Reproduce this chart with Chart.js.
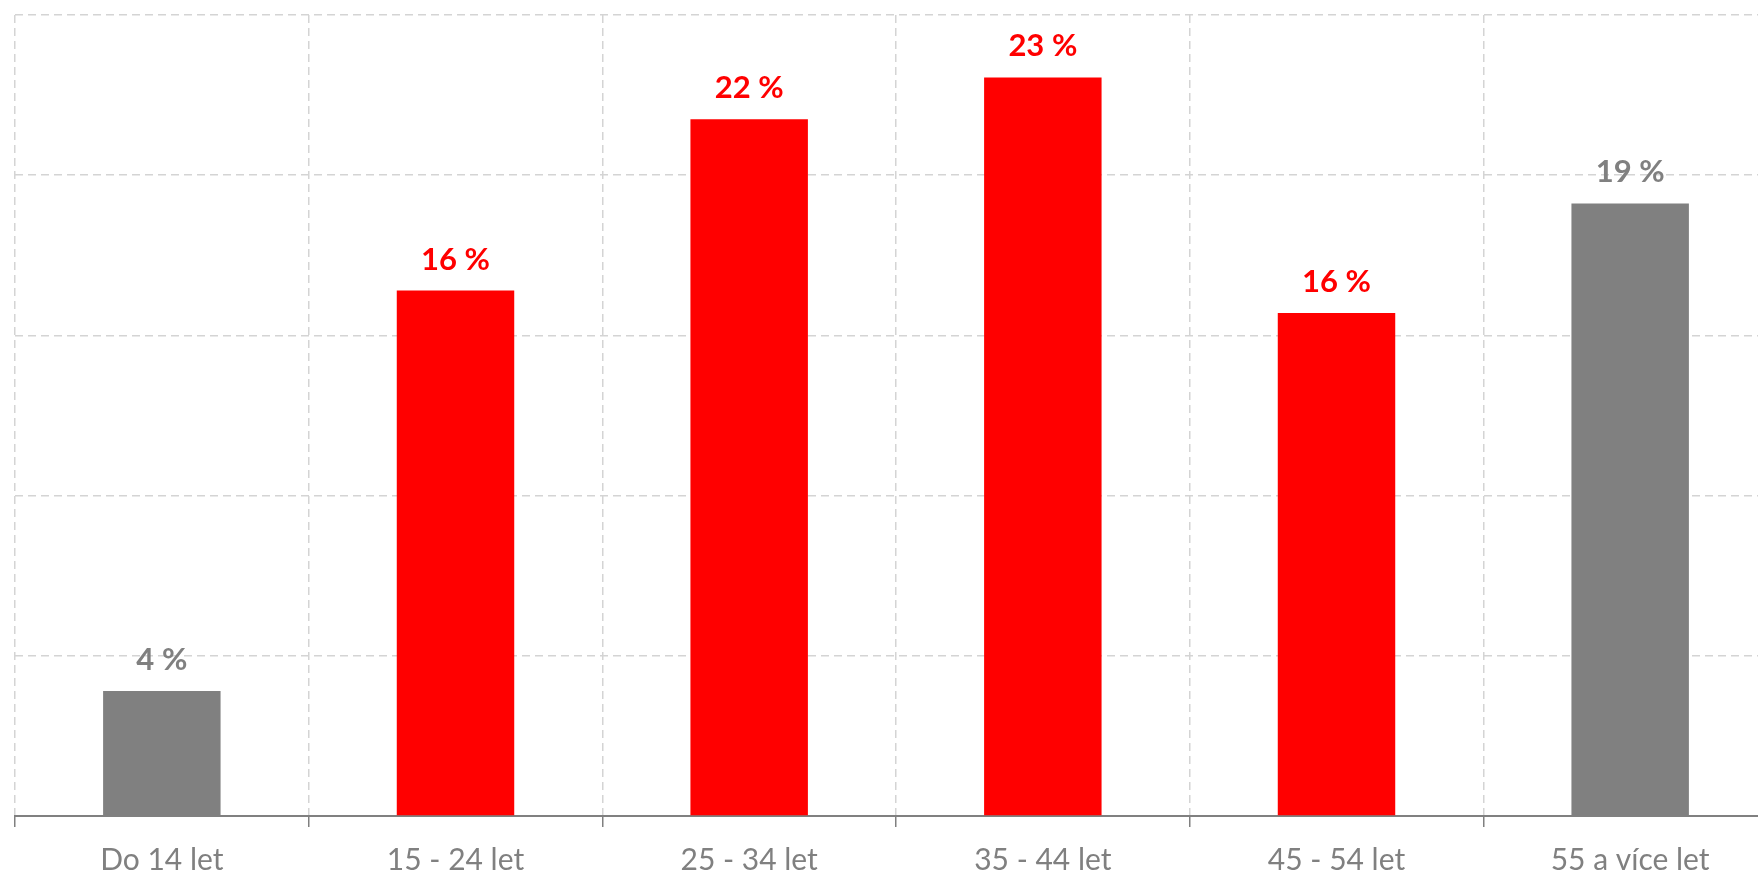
<!DOCTYPE html>
<html>
<head>
<meta charset="utf-8">
<script src="https://cdn.jsdelivr.net/npm/chart.js@4"></script>
<style>
  html, body { margin: 0; padding: 0; background: #fff; overflow: hidden; }
  #wrap { position: relative; width: 1777px; height: 876px; }
</style>
</head>
<body>
<div id="wrap"><canvas id="chart"></canvas></div>
<script>
const categories = ["Do 14 let", "15 - 24 let", "25 - 34 let", "35 - 44 let", "45 - 54 let", "55 a více let"];
const shares = [3.9, 16.4, 21.75, 23.05, 15.7, 19.12];
const shareLabels = ["4 %", "16 %", "22 %", "23 %", "16 %", "19 %"];

const RED = "#ff0000";
const GREY = "#808080";
const barColors = [GREY, RED, RED, RED, RED, GREY];

// value labels above the bars
const valueLabels = {
  id: "valueLabels",
  afterDatasetsDraw(chart) {
    const ctx = chart.ctx;
    const meta = chart.getDatasetMeta(0);
    ctx.save();
    ctx.font = "bold 31px Lato";
    ctx.textAlign = "center";
    ctx.textBaseline = "alphabetic";
    meta.data.forEach((bar, i) => {
      ctx.fillStyle = barColors[i];
      ctx.fillText(shareLabels[i], bar.x, bar.y - 21);
    });
    ctx.restore();
  }
};

new Chart(document.getElementById("chart"), {
  type: "bar",
  data: {
    labels: categories,
    datasets: [{
      data: shares,
      backgroundColor: barColors,
      barPercentage: 0.4,
      categoryPercentage: 1
    }]
  },
  options: {
    responsive: true,
    maintainAspectRatio: false,
    animation: false,
    layout: { padding: { left: 15, top: 15, right: 0, bottom: 0 } },
    plugins: { legend: { display: false }, tooltip: { enabled: false } },
    scales: {
      x: {
        grid: {
          offset: true,
          color: "#d4d4d4",
          lineWidth: 1.5,
          tickLength: 11,
          tickColor: GREY,
          tickWidth: 1.5,
          tickBorderDash: []
        },
        border: { display: true, color: GREY, width: 2, dash: [8, 5] },
        ticks: { color: GREY, font: { family: "Lato", size: 30 }, padding: 15 },
        afterFit(scale) { scale.height = 60; }
      },
      y: {
        min: 0, max: 25,
        ticks: { display: false, stepSize: 5 },
        grid: { color: "#d4d4d4", lineWidth: 1.5, drawTicks: false },
        border: { display: false, dash: [8, 5] },
        afterFit(scale) { scale.width = 0; }
      }
    }
  },
  plugins: [valueLabels]
});
</script>
</body>
</html>
